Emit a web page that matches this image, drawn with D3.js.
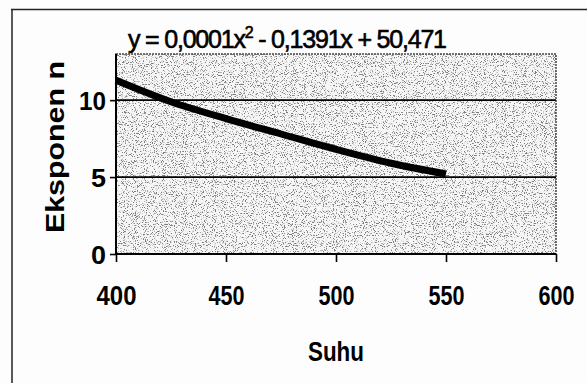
<!DOCTYPE html>
<html>
<head>
<meta charset="utf-8">
<script src="https://cdn.jsdelivr.net/npm/d3@7/dist/d3.min.js"></script>
<style>
  html, body { margin: 0; padding: 0; background: #fdfdfd; }
  svg { display: block; }
  text { font-family: "Liberation Sans", Arial, sans-serif; fill: #000; }
</style>
</head>
<body>
<svg id="chart" width="587" height="383"></svg>
<script>
// ---- data ----
const temps = [400, 425, 450, 475, 500, 525, 550];
const nValues = [11.3, 9.9, 8.8, 7.8, 6.8, 5.9, 5.2];
const xTicks = [400, 450, 500, 550, 600];
const yTicks = [0, 5, 10];
const xTitle = "Suhu";
const yTitle = "Eksponen n";

const svg = d3.select("#chart");
const W = 587, H = 383;
const plot = { left: 116, right: 556, top: 54, bottom: 254 };

const x = d3.scaleLinear().domain([400, 600]).range([plot.left, plot.right]);
const y = d3.scaleLinear().domain([0, 13]).range([plot.bottom, plot.top]);

// outer frame (only top & left visible)
svg.append("rect").attr("x", 0).attr("y", 0).attr("width", W).attr("height", H).attr("fill", "#fdfdfd");
svg.append("line").attr("x1", 11).attr("x2", W).attr("y1", 9.5).attr("y2", 9.5)
  .attr("stroke", "#222").attr("stroke-width", 1.5);
svg.append("line").attr("x1", 12).attr("x2", 12).attr("y1", 9).attr("y2", H)
  .attr("stroke", "#222").attr("stroke-width", 1.5);

// stipple texture
const defs = svg.append("defs");
const f = defs.append("filter").attr("id", "stip")
  .attr("x", 0).attr("y", 0).attr("width", 1).attr("height", 1)
  .attr("filterUnits", "objectBoundingBox");
f.append("feTurbulence").attr("type", "fractalNoise").attr("baseFrequency", 0.9)
  .attr("numOctaves", 2).attr("seed", 7).attr("result", "n");
f.append("feColorMatrix").attr("type", "matrix")
  .attr("values", "0 0 0 0 0.2  0 0 0 0 0.2  0 0 0 0 0.2  -8 0 0 0 3.55");

const pw = plot.right - plot.left, ph = plot.bottom - plot.top;
svg.append("rect").attr("x", plot.left).attr("y", plot.top).attr("width", pw).attr("height", ph)
  .attr("fill", "#f6f6f6");
svg.append("rect").attr("x", plot.left).attr("y", plot.top).attr("width", pw).attr("height", ph)
  .attr("fill", "#000").attr("filter", "url(#stip)");
svg.append("rect").attr("x", plot.left).attr("y", plot.top).attr("width", pw).attr("height", ph)
  .attr("fill", "none").attr("stroke", "#444").attr("stroke-width", 1.5).attr("stroke-dasharray", "2,1");

// gridlines
svg.append("g").selectAll("line").data(yTicks.filter(d => d > 0)).join("line")
  .attr("x1", plot.left).attr("x2", plot.right)
  .attr("y1", d => y(d)).attr("y2", d => y(d))
  .attr("stroke", "#000").attr("stroke-width", 1.6);

// axes
const xAxis = svg.append("g").attr("transform", `translate(0,${plot.bottom})`)
  .call(d3.axisBottom(x).tickValues(xTicks).tickSize(8).tickFormat(d3.format("d")));
const yAxis = svg.append("g").attr("transform", `translate(${plot.left},0)`)
  .call(d3.axisLeft(y).tickValues(yTicks).tickSize(6).tickFormat(d3.format("d")));
[xAxis, yAxis].forEach(g => {
  g.select(".domain").attr("stroke", "#000").attr("stroke-width", 2);
  g.selectAll(".tick line").attr("stroke", "#000").attr("stroke-width", 1.6);
  g.selectAll("text").style("font-family", '"Liberation Sans", Arial, sans-serif')
    .attr("fill", "#000").attr("font-size", 27).attr("font-weight", "bold")
    .attr("lengthAdjust", "spacingAndGlyphs");
});
xAxis.select(".domain").attr("d", `M${plot.left},0H${plot.right}`);
yAxis.select(".domain").attr("d", `M0,${plot.bottom}V${plot.top}`);
xAxis.selectAll("text").attr("y", 0).attr("dy", 0).attr("transform", "translate(0,51)")
  .attr("textLength", d => d === 400 ? 40 : 36);
yAxis.selectAll("text").attr("x", -10).attr("dy", "0.36em").attr("font-size", 26)
  .attr("textLength", d => d === 10 ? 27 : 15);

// data line
const line = d3.line().x(d => x(d[0])).y(d => y(d[1])).curve(d3.curveMonotoneX);
svg.append("path").datum(temps.map((t, i) => [t, nValues[i]]))
  .attr("d", line).attr("fill", "none").attr("stroke", "#000")
  .attr("stroke-width", 7).attr("stroke-linecap", "butt");

// trendline equation label
const eq = svg.append("text").attr("x", 128).attr("y", 48)
  .attr("font-size", 25).attr("letter-spacing", -1.2)
  .attr("stroke", "#000").attr("stroke-width", 0.6);
eq.append("tspan").text("y = 0,0001x");
eq.append("tspan").attr("font-size", 16).attr("dy", -10).text("2");
eq.append("tspan").attr("dy", 10).text(" - 0,1391x + 50,471");

// axis titles
svg.append("text").attr("x", (plot.left + plot.right) / 2 - 0).attr("y", 361)
  .attr("text-anchor", "middle").attr("font-size", 27).attr("font-weight", "bold")
  .attr("textLength", 56).attr("lengthAdjust", "spacingAndGlyphs").text(xTitle);
svg.append("text").attr("transform", `translate(64,147) rotate(-90)`)
  .attr("text-anchor", "middle").attr("font-size", 26).attr("font-weight", "bold")
  .attr("textLength", 172).attr("lengthAdjust", "spacingAndGlyphs").text(yTitle);
</script>
</body>
</html>
